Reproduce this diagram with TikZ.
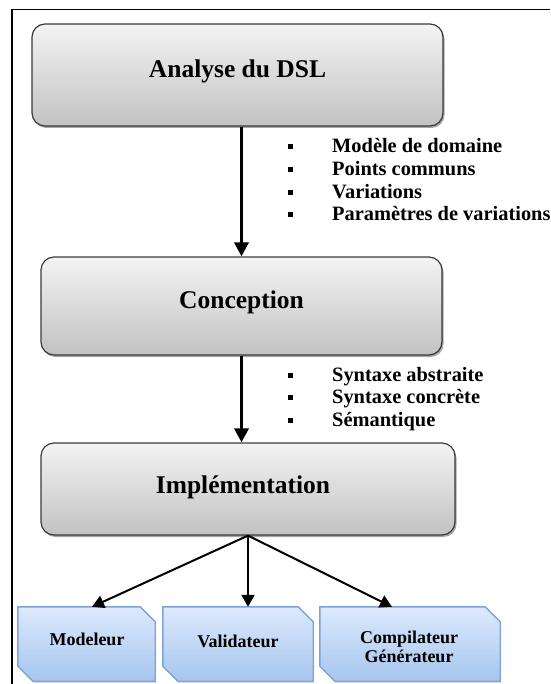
\documentclass[tikz,border=0pt]{standalone}
\usepackage{fontspec}
\setmainfont{Liberation Serif}
\usetikzlibrary{arrows.meta,shadows}

\definecolor{stagetop}{HTML}{F3F3F3}
\definecolor{stagebot}{HTML}{C2C2C2}
\definecolor{stageline}{HTML}{3A3A3A}
\definecolor{tooltop}{HTML}{DDEAFC}
\definecolor{toolbot}{HTML}{A6C5EF}
\definecolor{toolline}{HTML}{7DA4D6}

% outline of a tool box: top-right and bottom-left corners cut off
\newcommand\chamferbox[1]{%
  \path[toolfill] (#1.north west) -- ([xshift=-15pt]#1.north east)
    -- ([yshift=-15pt]#1.north east) -- (#1.south east)
    -- ([xshift=15pt]#1.south west) -- ([yshift=15pt]#1.south west) -- cycle;}

\begin{document}
\begin{tikzpicture}[x=1pt, y=-1pt,
  stage/.style={rectangle, rounded corners=13pt, draw=stageline, line width=1.2pt,
    top color=stagetop, bottom color=stagebot, inner sep=0pt,
    drop shadow={shadow xshift=1.5pt, shadow yshift=-2pt, opacity=0.35, fill=black}},
  title/.style={font=\bfseries\fontsize{25.5}{30}\selectfont, anchor=base, inner sep=0pt},
  item/.style={font=\bfseries\fontsize{20.4}{24}\selectfont, anchor=base west, inner sep=0pt},
  bullet/.style={rectangle, fill=black, minimum size=5pt, inner sep=0pt},
  tool/.style={rectangle, inner sep=0pt},
  toolfill/.style={draw=toolline, line width=1.4pt, top color=tooltop, bottom color=toolbot,
    drop shadow={shadow xshift=1pt, shadow yshift=-1.5pt, opacity=0.2, fill=black}},
  toollabel/.style={font=\bfseries\fontsize{18}{20}\selectfont, anchor=base, inner sep=0pt},
  bigarrow/.style={line width=3.6pt, -{Triangle[width=14pt,length=14pt]}},
  smallarrow/.style={line width=2pt, -{Triangle[width=13pt,length=12pt]}}]

\useasboundingbox (0,0) rectangle (550,684);

% frame
\draw[line width=1.6pt] (12,684) -- (12,9.7) -- (550,9.7);

% stages
\node[stage, minimum width=411pt, minimum height=102pt] (b1) at (237.5,75) {};
\node[title] (t1) at (237.5,78) {Analyse du DSL};
\node[stage, minimum width=401pt, minimum height=98pt] (b2) at (241.5,306) {};
\node[title] (t2) at (241.5,308) {Conception};
\node[stage, minimum width=414pt, minimum height=92pt] (b3) at (248,489) {};
\node[title] (t3) at (243,493) {Implémentation};

% outputs of the first stage
\node[bullet] (d11) at (290,147) {};
\node[item] (i11) at (332,153) {Modèle de domaine};
\node[bullet] (d12) at (290,169.7) {};
\node[item] (i12) at (332,175.7) {Points communs};
\node[bullet] (d13) at (290,192.4) {};
\node[item] (i13) at (332,198.4) {Variations};
\node[bullet] (d14) at (290,215) {};
\node[item] (i14) at (332,221) {Paramètres de variations};

% outputs of the second stage
\node[bullet] (d21) at (290,375) {};
\node[item] (i21) at (332,381) {Syntaxe abstraite};
\node[bullet] (d22) at (290,397.5) {};
\node[item] (i22) at (332,403.5) {Syntaxe concrète};
\node[bullet] (d23) at (290,420) {};
\node[item] (i23) at (332,426) {Sémantique};

% tools
\node[tool, minimum width=137pt, minimum height=74pt] (mod) at (86.5,644) {};
\chamferbox{mod}
\node[toollabel] (modt) at (87,645) {Modeleur};
\node[tool, minimum width=150pt, minimum height=74pt] (val) at (238,644) {};
\chamferbox{val}
\node[toollabel] (valt) at (238,647) {Validateur};
\node[tool, minimum width=180pt, minimum height=74pt] (gen) at (410,644) {};
\chamferbox{gen}
\node[toollabel] (gent1) at (409,643) {Compilateur};
\node[toollabel] (gent2) at (409,662) {Générateur};

% flow
\draw[bigarrow] (b1.south -| b2.north) -- (b2.north);
\draw[bigarrow] (b2.south) -- (b2.south |- b3.north);
\draw[smallarrow] (b3.south) -- ([xshift=5.5pt]mod.north);
\draw[smallarrow] (b3.south) -- (b3.south |- val.north);
\draw[smallarrow] (b3.south) -- ([xshift=-18pt]gen.north);
\end{tikzpicture}
\end{document}
